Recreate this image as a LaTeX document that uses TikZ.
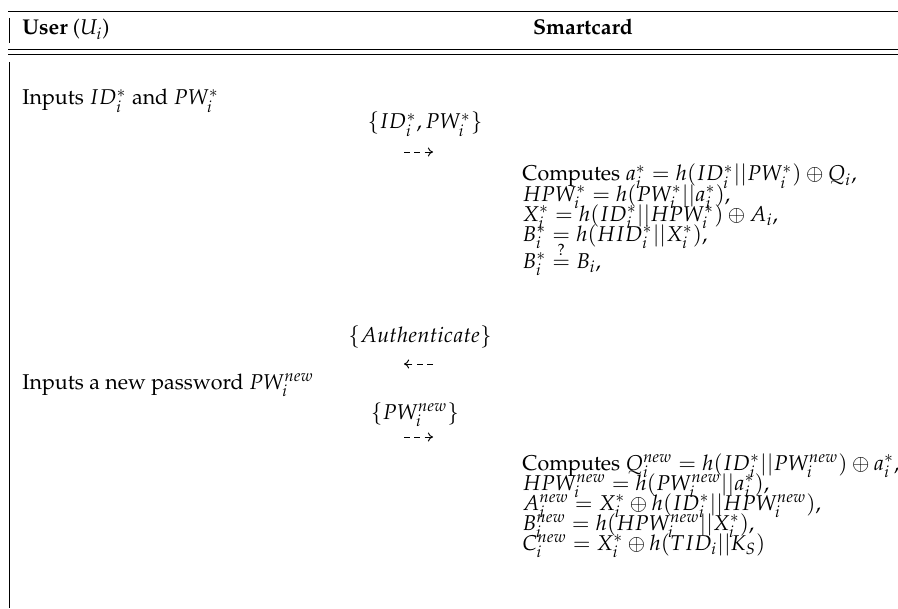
\documentclass[tikz,border=0pt]{standalone}
\usepackage[T1]{fontenc}
\usepackage{mathpazo}
\usepackage{amsmath}
\usetikzlibrary{arrows.meta}

\begin{document}
\begin{tikzpicture}[x=0.467pt, y=-0.467pt,
    rule/.style={line width=0.45pt},
    msg/.style={anchor=base, inner sep=0pt},
    flow/.style={dash pattern=on 2.9pt off 1.9pt, -{To[length=2.4pt,width=4.2pt]}, line width=0.45pt},
    usertext/.style={anchor=base west, inner sep=0pt},
    cardtext/.style={anchor=base west, inner sep=0pt}]

      \useasboundingbox (0,0) rectangle (898,608);

      % The header of the table.
      \draw[rule] (8,11) -- (898,11);
      \draw[rule] (9,18) -- (9,43);
      \node (user) [usertext] at (22,35) {\textbf{User} ($U_i$)};
      \node (card) [msg] at (583,35) {\textbf{Smartcard}};
      \draw[rule] (8,49) -- (898,49);
      \draw[rule] (8,54) -- (898,54);

      % The left border of the body.
      \draw[rule] (9,62) -- (9,608);

      % The user enters the old identity and password.
      \node (inp) [usertext] at (22,105) {Inputs $ID_i^*$ and $PW_i^*$};
      \node (m1) [msg] at (425,129) {$\{ID_i^*, PW_i^*\}$};
      \coordinate (a1s) at (404,152);
      \coordinate (a1e) at (433,152);
      \draw[flow] (a1s) -- (a1e);

      % The card checks the old values.
      \node (chk1) [cardtext] at (522,181) {Computes $a_i^* = h(ID_i^*||PW_i^*) \oplus Q_i$,};
      \node (chk2) [cardtext] at (522,201) {$HPW_i^* = h(PW_i^*||a_i^*)$,};
      \node (chk3) [cardtext] at (522,221) {$X_i^* = h(ID_i^*||HPW_i^*) \oplus A_i$,};
      \node (chk4) [cardtext] at (522,241) {$B_i^* = h(HID_i^*||X_i^*)$,};
      \node (chk5) [cardtext] at (522,268) {$B_i^* \stackrel{?}{=} B_i$,};

      % The card answers.
      \node (m2) [msg] at (420,342) {$\{Authenticate\}$};
      \coordinate (a2s) at (433,364);
      \coordinate (a2e) at (404,364);
      \draw[flow] (a2s) -- (a2e);

      % The user chooses a new password.
      \node (newpw) [usertext] at (22,389) {Inputs a new password $PW_i^{new}$};
      \node (m3) [msg] at (415,419) {$\{PW_i^{new}\}$};
      \coordinate (a3s) at (404,437);
      \coordinate (a3e) at (433,437);
      \draw[flow] (a3s) -- (a3e);

      % The card updates its stored values.
      \node (upd1) [cardtext] at (522,470) {Computes $Q_i^{new} = h(ID_i^*||PW_i^{new}) \oplus a_i^*$,};
      \node (upd2) [cardtext] at (522,490) {$HPW_i^{new} = h(PW_i^{new}||a_i^*)$,};
      \node (upd3) [cardtext] at (522,510) {$A_i^{new} = X_i^* \oplus h(ID_i^*||HPW_i^{new})$,};
      \node (upd4) [cardtext] at (522,530) {$B_i^{new} = h(HPW_i^{new}||X_i^*)$,};
      \node (upd5) [cardtext] at (522,550) {$C_i^{new} = X_i^* \oplus h(TID_i||K_S)$};
    \end{tikzpicture}
\end{document}
